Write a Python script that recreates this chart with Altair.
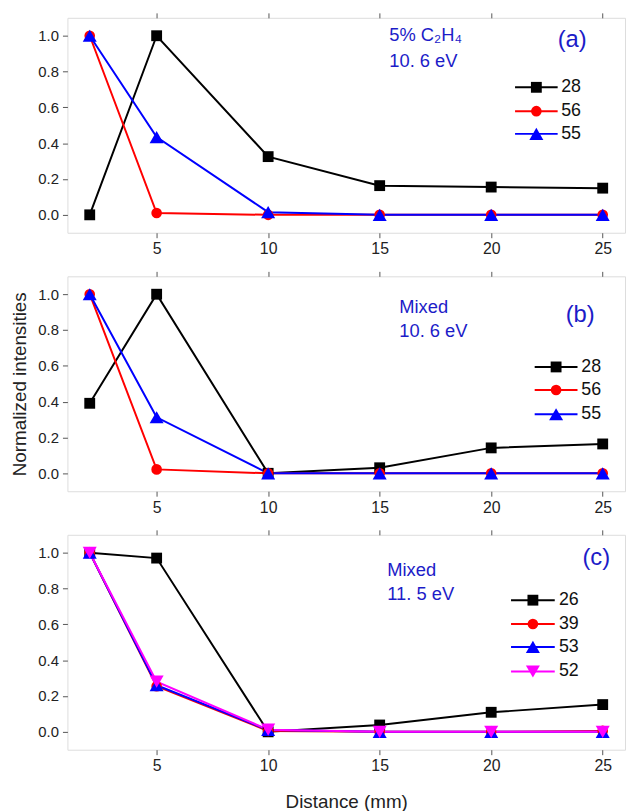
import altair as alt
import pandas as pd

FONT = "Liberation Sans"

distance = [2, 5, 10, 15, 20, 25]

# panel (a): 5% C2H4, 10.6 eV
a_names = ["28", "56", "55"]
a_values = [
    [0.0, 1.0, 0.325, 0.163, 0.155, 0.149],
    [1.0, 0.01, 0.0, 0.0, 0.0, 0.0],
    [1.0, 0.434, 0.015, 0.0, 0.0, 0.0],
]
# panel (b): Mixed, 10.6 eV
b_names = ["28", "56", "55"]
b_values = [
    [0.391, 1.0, 0.0, 0.031, 0.142, 0.164],
    [1.0, 0.022, 0.0, 0.0, 0.0, 0.0],
    [1.0, 0.313, 0.0, 0.0, 0.0, 0.0],
]
# panel (c): Mixed, 11.5 eV
c_names = ["26", "39", "53", "52"]
c_values = [
    [1.0, 0.97, 0.0, 0.038, 0.109, 0.152],
    [1.0, 0.255, 0.005, 0.0, 0.0, 0.005],
    [1.0, 0.26, 0.01, 0.0, 0.0, 0.0],
    [1.0, 0.28, 0.012, 0.0, 0.0, 0.0],
]

a_notes = ["5% C\u2082H\u2084", "10. 6 eV"]
b_notes = ["Mixed", "10. 6 eV"]
c_notes = ["Mixed", "11. 5 eV"]
tags = ["(a)", "(b)", "(c)"]

x_ticks = [5, 10, 15, 20, 25]
y_ticks = [0.0, 0.2, 0.4, 0.6, 0.8, 1.0]

COLORS = ["#000000", "#ff0000", "#0000ff", "#ff00ff"]
SHAPES = ["square", "circle", "triangle-up", "triangle-down"]
SIZES = [120, 115, 200, 200]
NOTE_COLOR = "#1c1cc8"

W, H = 563, 217
XDOM = [1, 26]
YDOM = [-0.1, 1.1]


def panel(names, values, notes, note_pos, tag, tag_pos, leg_x, leg_y,
          xtitle=False, ytitle=False):
    rows = []
    for i, (n, vals) in enumerate(zip(names, values)):
        for d, v in zip(distance, vals):
            rows.append({"distance": d, "value": v, "series": n, "order": i})
    df = pd.DataFrame(rows)
    k = len(names)
    cscale = alt.Scale(domain=names, range=COLORS[:k])
    sscale = alt.Scale(domain=names, range=SHAPES[:k])
    zscale = alt.Scale(type="ordinal", domain=names, range=SIZES[:k])

    xs = alt.Scale(domain=XDOM, nice=False, zero=False)
    ys = alt.Scale(domain=YDOM, nice=False, zero=False)

    xaxis = alt.Axis(values=x_ticks, title="Distance (mm)" if xtitle else None,
                     grid=False, domain=False, tickSize=5, labelPadding=3,
                     tickColor="#555555", labelFontSize=16, labelFont=FONT,
                     labelColor="#222222", titleFont=FONT, titleFontSize=19,
                     titleFontWeight="normal", titleColor="#222222", titlePadding=19)
    yaxis = alt.Axis(values=y_ticks, format=".1f",
                     title="Normalized intensities" if ytitle else None,
                     grid=False, domain=False, tickSize=5, labelPadding=4,
                     tickColor="#555555", labelFontSize=15, labelFont=FONT,
                     labelColor="#222222", titleFont=FONT, titleFontSize=19,
                     titleFontWeight="normal", titleColor="#222222", titlePadding=8)
    topaxis = alt.Axis(values=x_ticks, orient="top", labels=False, title=None,
                       grid=False, domain=False, tickSize=5, tickColor="#555555")

    base = alt.Chart(df)
    lines = base.mark_line(strokeWidth=2).encode(
        x=alt.X("distance:Q", scale=xs, axis=xaxis),
        y=alt.Y("value:Q", scale=ys, axis=yaxis),
        color=alt.Color("series:N", scale=cscale, legend=None),
        order="order:Q",
        detail="series:N",
    )
    pts = base.mark_point(filled=True, opacity=1).encode(
        x=alt.X("distance:Q", scale=xs, axis=topaxis),
        y=alt.Y("value:Q", scale=ys),
        color=alt.Color("series:N", scale=cscale, legend=None),
        shape=alt.Shape("series:N", scale=sscale, legend=None),
        size=alt.Size("series:N", scale=zscale, legend=None),
        order="order:Q",
    )

    leg = pd.DataFrame({
        "series": names,
        "x1": [leg_x[0]] * k,
        "x2": [leg_x[1]] * k,
        "xm": [(leg_x[0] + leg_x[1]) / 2] * k,
        "xl": [leg_x[2]] * k,
        "value": leg_y,
    })
    lbase = alt.Chart(leg)
    leg_rule = lbase.mark_rule(strokeWidth=2).encode(
        x=alt.X("x1:Q", scale=xs, axis=None), x2="x2:Q",
        y=alt.Y("value:Q", scale=ys),
        color=alt.Color("series:N", scale=cscale, legend=None),
    )
    leg_pt = lbase.mark_point(filled=True, opacity=1).encode(
        x=alt.X("xm:Q", scale=xs, axis=None), y=alt.Y("value:Q", scale=ys),
        color=alt.Color("series:N", scale=cscale, legend=None),
        shape=alt.Shape("series:N", scale=sscale, legend=None),
        size=alt.Size("series:N", scale=zscale, legend=None),
    )
    leg_txt = lbase.mark_text(align="left", baseline="middle", font=FONT,
                              fontSize=18, color="#111111", dx=2).encode(
        x=alt.X("xl:Q", scale=xs, axis=None), y=alt.Y("value:Q", scale=ys),
        text="series:N",
    )

    ndf = pd.DataFrame({"text": notes, "x": [note_pos[0]] * len(notes),
                        "value": note_pos[1]})
    note_txt = alt.Chart(ndf).mark_text(align="left", baseline="middle", font=FONT,
                                        fontSize=18.5, color=NOTE_COLOR).encode(
        x=alt.X("x:Q", scale=xs, axis=None), y=alt.Y("value:Q", scale=ys),
        text="text:N",
    )
    tdf = pd.DataFrame({"text": [tag], "x": [tag_pos[0]], "value": [tag_pos[1]]})
    tag_txt = alt.Chart(tdf).mark_text(align="left", baseline="middle", font=FONT,
                                       fontSize=24, color=NOTE_COLOR).encode(
        x=alt.X("x:Q", scale=xs, axis=None), y=alt.Y("value:Q", scale=ys),
        text="text:N",
    )

    return alt.layer(lines, pts, leg_rule, leg_pt, leg_txt, note_txt, tag_txt).resolve_axis(
        x="independent").properties(width=W, height=H)


pa = panel(a_names, a_values, a_notes, (15.43, [1.006, 0.856]), tags[0], (22.98, 0.978),
           (21.07, 22.98, 23.05), [0.712, 0.579, 0.452])
pb = panel(b_names, b_values, b_notes, (15.88, [0.926, 0.797]), tags[1], (23.34, 0.882),
           (21.95, 23.87, 23.95), [0.594, 0.465, 0.33], ytitle=True)
pc = panel(c_names, c_values, c_notes, (15.34, [0.902, 0.768]), tags[2], (24.09, 0.968),
           (20.89, 22.85, 22.95), [0.735, 0.602, 0.474, 0.337], xtitle=True)

chart = alt.vconcat(pa, pb, pc, spacing=13).resolve_scale(
    color="independent", shape="independent", size="independent"
).properties(
    padding={"left": 2, "top": 0, "right": 0, "bottom": 0}
).configure_view(stroke="#555555", strokeWidth=1.2).configure(background="white")

chart.save("out.html", embed_options={"renderer": "svg", "actions": False})
